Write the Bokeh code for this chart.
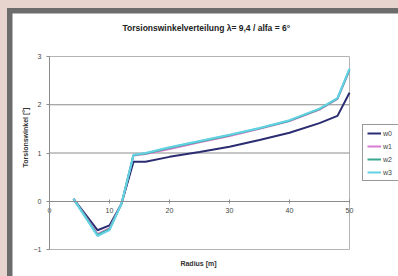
import math
from bokeh.plotting import figure
from bokeh.models import Range1d, LinearAxis, FixedTicker, Legend, LegendItem, Label
from bokeh.embed import file_html
from bokeh.resources import INLINE

radius = [4, 8, 10, 12, 14, 16, 20, 25, 30, 35, 40, 45, 48, 50]
w0 = [0.05, -0.60, -0.50, -0.05, 0.82, 0.82, 0.92, 1.02, 1.13, 1.27, 1.42, 1.62, 1.77, 2.25]
w1 = [0.05, -0.68, -0.56, -0.05, 0.95, 0.98, 1.08, 1.22, 1.35, 1.50, 1.66, 1.90, 2.12, 2.72]
w2 = [0.05, -0.70, -0.58, -0.05, 0.96, 0.99, 1.11, 1.24, 1.37, 1.51, 1.67, 1.91, 2.13, 2.73]
w3 = [0.05, -0.72, -0.60, -0.05, 0.96, 1.00, 1.12, 1.25, 1.38, 1.52, 1.68, 1.92, 2.14, 2.75]
series_names = ["w0", "w1", "w2", "w3"]
series_colors = ["#2b2d72", "#d77ccf", "#3aa88e", "#62d2e4"]
x_ticks = [0, 10, 20, 30, 40, 50]
y_ticks = [-1, 0, 1, 2, 3]
grid_ticks = [1, 2]
x_lim = [0, 50]
y_lim = [-1, 3]

FONT = "Liberation Sans"
W, H = 386, 263
# plot area of the chart inside the canvas (pixels)
PL, PR, PT, PB = 37, 337, 43, 236
sx = (PR - PL) / (x_lim[1] - x_lim[0])
sy = (PB - PT) / (y_lim[1] - y_lim[0])
x0 = x_lim[0] - PL / sx
x1 = x_lim[0] + (W - PL) / sx
y1 = y_lim[1] + PT / sy
y0 = y_lim[1] - (H - PT) / sy

def cx(px):
    return x_lim[0] + (px - PL) / sx

def cy(py):
    return y_lim[1] - (py - PT) / sy

p = figure(width=W, height=H, output_backend="svg", toolbar_location=None, title=None,
           x_range=Range1d(x0, x1), y_range=Range1d(y0, y1),
           x_axis_location=None, y_axis_location=None,
           min_border=0, background_fill_color="white", border_fill_color="white")
p.outline_line_color = None
p.xgrid.visible = False
p.ygrid.visible = False

# plot area border and horizontal gridlines
p.quad(left=x_lim[0], right=x_lim[1], bottom=y_lim[0], top=y_lim[1],
       fill_color=None, line_color="#b4b4b4", line_width=1)
p.segment(x0=[x_lim[0]] * len(grid_ticks), x1=[x_lim[1]] * len(grid_ticks),
          y0=grid_ticks, y1=grid_ticks, line_color="#8c8c8c", line_width=1)

ya = LinearAxis(fixed_location=0, bounds=(y_lim[0], y_lim[1]), ticker=FixedTicker(ticks=y_ticks))
ya.axis_line_color = "#8c8c8c"
ya.major_tick_line_color = "#8c8c8c"
ya.major_tick_out = 3
ya.major_tick_in = 0
ya.minor_tick_line_color = None
ya.major_label_text_font = FONT
ya.major_label_text_font_size = "7px"
ya.major_label_text_color = "#444444"
ya.major_label_standoff = 5
p.add_layout(ya, "left")

xa = LinearAxis(fixed_location=0, bounds=(x_lim[0], x_lim[1]), ticker=FixedTicker(ticks=x_ticks))
xa.axis_line_color = "#8c8c8c"
xa.major_tick_line_color = "#8c8c8c"
xa.major_tick_out = 2
xa.major_tick_in = 2
xa.minor_tick_line_color = None
xa.major_label_text_font = FONT
xa.major_label_text_font_size = "7px"
xa.major_label_text_color = "#444444"
xa.major_label_standoff = 5
p.add_layout(xa, "below")

p.add_layout(Label(x=cx(195), y=cy(14), text="Torsionswinkelverteilung  λ= 9,4 / alfa = 6°",
                   text_align="center", text_baseline="middle", text_font=FONT,
                   text_font_size="8.5px", text_font_style="bold", text_color="#222222"))
p.add_layout(Label(x=cx(186), y=cy(250), text="Radius [m]",
                   text_align="center", text_baseline="middle", text_font=FONT,
                   text_font_size="7px", text_font_style="bold", text_color="#333333"))
p.add_layout(Label(x=cx(13), y=cy(124), text="Torsionswinkel [°]", angle=math.pi / 2,
                   text_align="center", text_baseline="middle", text_font=FONT,
                   text_font_size="7px", text_font_style="bold", text_color="#333333"))

items = []
for name, ys, col in zip(series_names, [w0, w1, w2, w3], series_colors):
    r = p.line(radius, ys, line_color=col, line_width=2)
    items.append(LegendItem(label=name, renderers=[r]))

leg = Legend(items=items, location=(350, 95))
leg.label_text_font = FONT
leg.label_text_font_size = "7px"
leg.label_text_color = "#444444"
leg.glyph_width = 14
leg.glyph_height = 8
leg.label_height = 8
leg.label_standoff = 2
leg.spacing = 5
leg.padding = 4
leg.margin = 0
leg.border_line_color = "#333333"
leg.border_line_width = 1
leg.background_fill_color = "white"
leg.background_fill_alpha = 1
p.add_layout(leg, "center")

css = ("<style>html { background: #e8d4ce !important; } "
       "body { margin: 8px 0 0 7px !important; padding: 5px 0 0 5px !important; "
       "background: #6c6c6c !important; box-sizing: border-box; overflow: hidden; }</style>")
html = file_html(p, INLINE)
html = html.replace("</head>", css + "</head>", 1)
open("out.html", "w").write(html)
